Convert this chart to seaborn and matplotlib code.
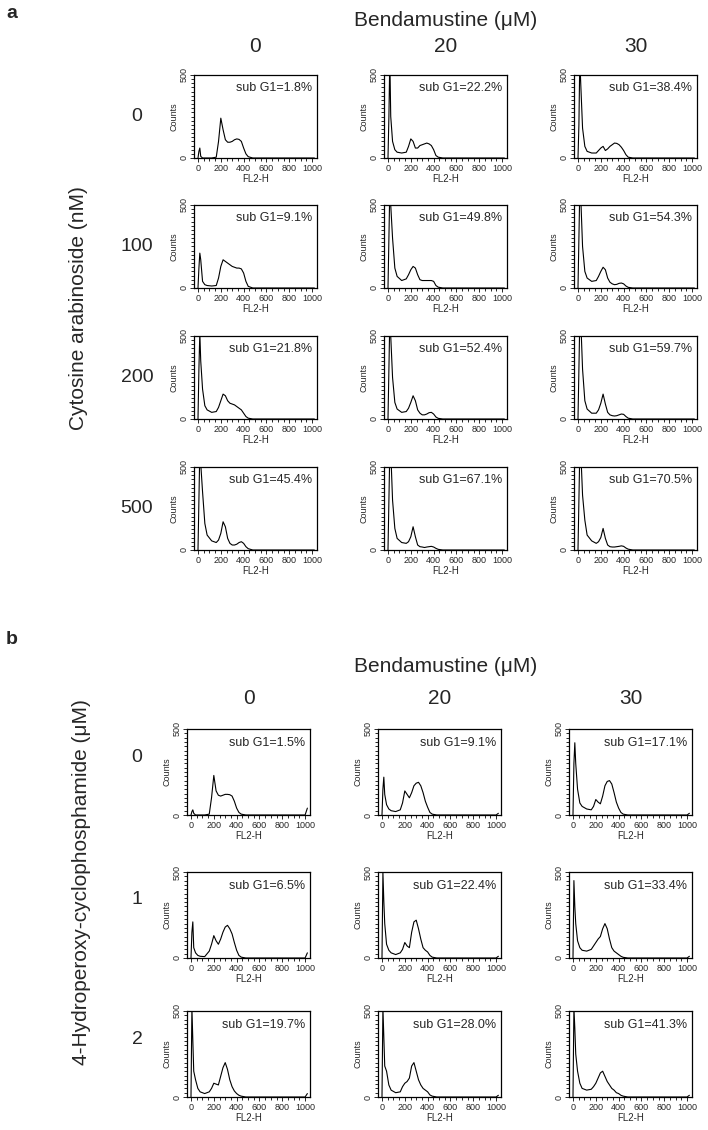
import matplotlib
matplotlib.use("Agg")
import matplotlib.pyplot as plt
import seaborn as sns
from matplotlib.ticker import MultipleLocator

# FL2-H channel positions used for every histogram
fl2h = [0, 8, 16, 24, 40, 60, 80, 120, 160, 180, 200, 220, 240, 260, 280,
        300, 320, 340, 360, 380, 400, 420, 440, 480, 600, 800, 1000, 1020]

bend_doses = ["0", "20", "30"]

# panel a: cytosine arabinoside (nM) x bendamustine
ara_doses = ["0", "100", "200", "500"]
ara_subg1 = [["1.8", "22.2", "38.4"],
             ["9.1", "49.8", "54.3"],
             ["21.8", "52.4", "59.7"],
             ["45.4", "67.1", "70.5"]]
ara_counts = [
    [[0, 40, 60, 10, 0, 0, 0, 0, 5, 100, 240, 170, 110, 95, 95, 100, 110, 115, 112, 100, 60, 25, 8, 0, 0, 0, 0, 0],
     [0, 250, 600, 250, 100, 50, 35, 30, 35, 70, 115, 100, 60, 60, 75, 80, 85, 90, 85, 75, 50, 15, 5, 0, 0, 0, 0, 0],
     [0, 200, 600, 450, 180, 70, 40, 30, 30, 45, 60, 70, 45, 55, 70, 80, 90, 88, 80, 65, 45, 20, 5, 0, 0, 0, 0, 0]],
    [[0, 120, 210, 170, 40, 20, 15, 12, 15, 60, 130, 170, 160, 150, 140, 130, 125, 120, 120, 115, 90, 40, 10, 0, 0, 0, 0, 0],
     [0, 300, 600, 500, 300, 120, 70, 45, 55, 80, 110, 130, 120, 80, 50, 45, 45, 45, 45, 45, 40, 15, 5, 0, 0, 0, 0, 0],
     [0, 300, 600, 550, 250, 100, 60, 40, 45, 70, 100, 125, 110, 60, 35, 25, 20, 22, 28, 30, 25, 12, 4, 0, 0, 0, 0, 0]],
    [[0, 300, 520, 350, 180, 80, 55, 40, 45, 70, 110, 150, 140, 110, 95, 90, 85, 75, 65, 55, 35, 15, 5, 0, 0, 0, 0, 0],
     [0, 300, 600, 500, 250, 100, 60, 40, 45, 65, 100, 140, 110, 55, 35, 25, 25, 30, 38, 40, 30, 12, 4, 0, 0, 0, 0, 0],
     [0, 300, 600, 600, 300, 110, 60, 35, 35, 55, 95, 150, 90, 40, 25, 20, 18, 20, 25, 30, 28, 15, 5, 0, 0, 0, 0, 0]],
    [[0, 300, 600, 520, 350, 160, 90, 55, 45, 60, 100, 170, 140, 70, 40, 30, 30, 35, 45, 50, 40, 20, 8, 0, 0, 0, 0, 0],
     [0, 300, 600, 600, 300, 130, 70, 45, 40, 50, 80, 140, 80, 30, 20, 18, 15, 18, 20, 22, 18, 10, 4, 0, 0, 0, 0, 0],
     [0, 300, 600, 600, 330, 180, 90, 55, 40, 50, 75, 130, 70, 30, 20, 18, 18, 20, 22, 25, 22, 12, 5, 0, 0, 0, 0, 0]],
]

# panel b: 4-hydroperoxy-cyclophosphamide (uM) x bendamustine
hc_doses = ["0", "1", "2"]
hc_subg1 = [["1.5", "9.1", "17.1"],
            ["6.5", "22.4", "33.4"],
            ["19.7", "28.0", "41.3"]]
hc_counts = [
    [[0, 20, 30, 10, 0, 0, 0, 0, 5, 100, 230, 140, 115, 110, 115, 120, 120, 118, 110, 80, 40, 15, 5, 0, 0, 0, 0, 40],
     [0, 150, 220, 120, 60, 35, 25, 20, 30, 70, 140, 120, 100, 130, 170, 185, 190, 170, 130, 80, 45, 15, 5, 0, 0, 0, 0, 10],
     [0, 300, 420, 300, 150, 70, 50, 35, 30, 50, 90, 75, 65, 110, 170, 195, 200, 180, 130, 75, 40, 15, 5, 0, 0, 0, 0, 10]],
    [[0, 150, 210, 60, 30, 15, 10, 8, 40, 80, 130, 100, 80, 110, 150, 180, 190, 170, 140, 90, 45, 15, 5, 0, 0, 0, 0, 30],
     [0, 500, 330, 200, 80, 45, 30, 20, 30, 50, 90, 70, 60, 150, 210, 220, 170, 110, 60, 45, 35, 15, 5, 0, 0, 0, 0, 10],
     [0, 450, 300, 200, 100, 60, 45, 40, 50, 70, 90, 110, 125, 170, 200, 170, 110, 60, 40, 30, 20, 10, 4, 0, 0, 0, 0, 10]],
    [[0, 520, 330, 150, 100, 50, 30, 20, 30, 50, 80, 75, 70, 120, 170, 200, 160, 100, 60, 35, 20, 10, 5, 0, 0, 0, 0, 20],
     [0, 520, 350, 180, 150, 70, 40, 25, 30, 60, 80, 90, 110, 180, 200, 150, 100, 70, 50, 40, 30, 12, 5, 0, 0, 0, 0, 10],
     [0, 520, 400, 250, 150, 80, 50, 40, 45, 60, 80, 110, 140, 150, 120, 90, 70, 50, 40, 25, 20, 10, 5, 0, 0, 0, 0, 10]],
]

sns.set_style("white")
plt.rcParams['font.family'] = ['Liberation Sans', 'DejaVu Sans']

W, H = 708, 1130
fig = plt.figure(figsize=(W / 100, H / 100), dpi=100)


def fx(px):
    return px / W


def fy(py):
    return 1 - py / H


def histo(left, top, w, h, counts, subg1):
    ax = fig.add_axes([fx(left), fy(top + h), fx(w), h / H])
    sns.lineplot(x=fl2h, y=counts, ax=ax, color='black', linewidth=0.8)
    ax.set_xlim(-35, 1043)
    ax.set_ylim(0, 500)
    ax.set_xticks([0, 200, 400, 600, 800, 1000])
    ax.set_yticks([0, 500])
    ax.xaxis.set_minor_locator(MultipleLocator(50))
    ax.yaxis.set_minor_locator(MultipleLocator(25))
    ax.tick_params(which='both', direction='out', width=0.7, pad=1,
                   labelsize=6.5, bottom=True, left=True)
    ax.tick_params(which='major', length=3)
    ax.tick_params(which='minor', length=2)
    for t in ax.get_yticklabels():
        t.set_rotation(90)
        t.set_va('center')
    for s in ax.spines.values():
        s.set_color('black')
        s.set_linewidth(0.9)
    ax.set_xlabel('FL2-H', fontsize=7, labelpad=1)
    ax.set_ylabel('Counts', fontsize=6.5, labelpad=1)
    ax.text(0.96, 0.84, 'sub G1=' + subg1 + '%', transform=ax.transAxes,
            ha='right', va='center', fontsize=9)
    return ax


# ---- panel a ----
a_lefts = [194, 384, 574]
a_tops = [75, 205, 336, 467]
pw, ha_ = 123, 83
fig.text(fx(6), fy(14), 'a', fontsize=14, fontweight='bold', va='center')
fig.text(fx(446), fy(20), 'Bendamustine (\u03bcM)', fontsize=15, ha='center', va='center')
for j, d in enumerate(bend_doses):
    fig.text(fx(a_lefts[j] + pw / 2), fy(47), d, fontsize=15, ha='center', va='center')
for i, d in enumerate(ara_doses):
    fig.text(fx(137), fy(a_tops[i] + ha_ / 2), d, fontsize=14, ha='center', va='center')
    for j in range(3):
        histo(a_lefts[j], a_tops[i], pw, ha_, ara_counts[i][j], ara_subg1[i][j])
fig.text(fx(78), fy(308), 'Cytosine arabinoside (nM)', fontsize=15,
         rotation=90, ha='center', va='center')

# ---- panel b ----
b_lefts = [187, 378, 569]
b_tops = [729, 872, 1011]
hb = 86
fig.text(fx(6), fy(640), 'b', fontsize=14, fontweight='bold', va='center')
fig.text(fx(446), fy(666), 'Bendamustine (\u03bcM)', fontsize=15, ha='center', va='center')
for j, d in enumerate(bend_doses):
    fig.text(fx(b_lefts[j] + pw / 2), fy(698), d, fontsize=15, ha='center', va='center')
for i, d in enumerate(hc_doses):
    fig.text(fx(137), fy(b_tops[i] + 28), d, fontsize=14, ha='center', va='center')
    for j in range(3):
        histo(b_lefts[j], b_tops[i], pw, hb, hc_counts[i][j], hc_subg1[i][j])
fig.text(fx(82), fy(882), '4-Hydroperoxy-cyclophosphamide (\u03bcM)', fontsize=15,
         rotation=90, ha='center', va='center')

fig.savefig('out.png', dpi=100, facecolor='white')
